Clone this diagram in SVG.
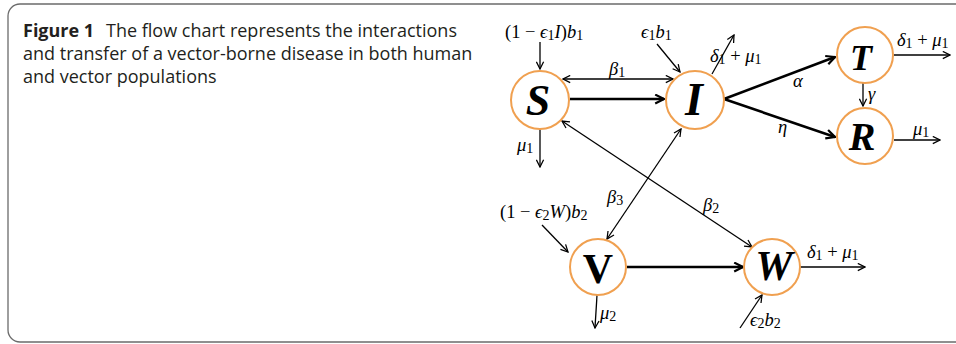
<svg xmlns="http://www.w3.org/2000/svg" width="956" height="344" viewBox="0 0 956 344">
<style>
.cap{font-family:"Open Sans","Liberation Sans",sans-serif;font-size:18px;fill:#231f20}
.node{fill:#fff;stroke:#F0A050;stroke-width:2}
.big{font-family:"Liberation Serif","DejaVu Serif",serif;font-weight:bold;font-style:italic;text-anchor:middle;fill:#000}
.m{font-family:"Liberation Serif","DejaVu Serif",serif;font-size:18.5px;fill:#000}
.i{font-style:italic}
.s{font-size:14px}
.c{stroke:#000;stroke-width:1.3;fill:none}
.t{stroke:#000;stroke-width:2.6;fill:none}
</style>
<defs>
<marker id="ah" viewBox="0 0 10 10" refX="9" refY="5" markerWidth="9" markerHeight="9" markerUnits="userSpaceOnUse" orient="auto-start-reverse">
<path d="M1,1 L9,5 L1,9" fill="none" stroke="#000" stroke-width="1.4"/>
</marker>
<marker id="ahT" viewBox="0 0 10 10" refX="9" refY="5" markerWidth="11" markerHeight="11" markerUnits="userSpaceOnUse" orient="auto">
<path d="M1,1 L9,5 L1,9" fill="none" stroke="#000" stroke-width="2"/>
</marker>
</defs>
<rect x="0" y="0" width="956" height="344" fill="#fff"/>
<path d="M960,4 H20 A12,12 0 0 0 8,16 V330 A12,12 0 0 0 20,342 H960" fill="none" stroke="#6b6b6b" stroke-width="1.3"/>
<g id="caption">
<text class="cap" x="23" y="37"><tspan font-weight="bold">Figure 1</tspan><tspan x="106">The flow chart represents the interactions</tspan></text>
<text class="cap" x="23" y="60">and transfer of a vector-borne disease in both human</text>
<text class="cap" x="23" y="83">and vector populations</text>
</g>
<g id="connectors">
<line class="c" x1="540" y1="42" x2="540" y2="69" marker-end="url(#ah)"/>
<line class="c" x1="657" y1="44" x2="680" y2="72" marker-end="url(#ah)"/>
<line class="c" x1="563" y1="79" x2="673" y2="79" marker-start="url(#ah)" marker-end="url(#ah)"/>
<line class="t" x1="570" y1="99" x2="664" y2="99" marker-end="url(#ahT)"/>
<line class="c" x1="540" y1="129" x2="540" y2="167" marker-end="url(#ah)"/>
<line class="c" x1="712" y1="74" x2="734" y2="35" marker-end="url(#ah)"/>
<line class="t" x1="724" y1="99" x2="835" y2="57" marker-end="url(#ahT)"/>
<line class="t" x1="724" y1="99" x2="835" y2="137" marker-end="url(#ahT)"/>
<line class="c" x1="863" y1="83" x2="863" y2="106" marker-end="url(#ah)" stroke-width="1.6"/>
<line class="c" x1="894" y1="55" x2="950" y2="55" marker-end="url(#ah)"/>
<line class="c" x1="894" y1="140" x2="940" y2="140" marker-end="url(#ah)"/>
<line class="c" x1="562" y1="121" x2="752" y2="247" marker-start="url(#ah)" marker-end="url(#ah)"/>
<line class="c" x1="681" y1="129" x2="607" y2="239" marker-start="url(#ah)" marker-end="url(#ah)"/>
<line class="c" x1="542" y1="225" x2="568" y2="252" marker-end="url(#ah)"/>
<line class="t" x1="627" y1="267" x2="743" y2="267" marker-end="url(#ahT)"/>
<line class="c" x1="597" y1="295" x2="595" y2="328" marker-end="url(#ah)"/>
<line class="c" x1="800" y1="267" x2="865" y2="267" marker-end="url(#ah)"/>
<line class="c" x1="740" y1="328" x2="762" y2="295" marker-end="url(#ah)"/>
</g>
<g id="node-S"><circle class="node" cx="540" cy="100" r="29"/><text class="big" x="538" y="115" font-size="44">S</text></g>
<g id="node-I"><circle class="node" cx="695" cy="100" r="29"/><text class="big" x="694" y="115" font-size="46">I</text></g>
<g id="node-T"><circle class="node" cx="865" cy="55" r="28"/><text class="big" x="861" y="70" font-size="36">T</text></g>
<g id="node-R"><circle class="node" cx="865" cy="136" r="28"/><text class="big" x="862" y="150" font-size="40">R</text></g>
<g id="node-V"><circle class="node" cx="598" cy="267" r="28"/><text class="big" x="598" y="283" font-size="42" style="font-style:normal">V</text></g>
<g id="node-W"><circle class="node" cx="772" cy="267" r="28"/><text class="big" x="774" y="280" font-size="42">W</text></g>
<g id="labels">
<text class="m" x="505" y="38">(1 − <tspan class="i">ϵ</tspan><tspan class="s" dy="2">1</tspan><tspan class="i" dy="-2">I</tspan>)<tspan class="i">b</tspan><tspan class="s" dy="2">1</tspan></text>
<text class="m" x="641" y="38"><tspan class="i">ϵ</tspan><tspan class="s" dy="2">1</tspan><tspan class="i" dy="-2">b</tspan><tspan class="s" dy="2">1</tspan></text>
<text class="m" x="609" y="75"><tspan class="i">β</tspan><tspan class="s" dy="2">1</tspan></text>
<text class="m" x="517" y="151"><tspan class="i">μ</tspan><tspan class="s" dy="2">1</tspan></text>
<text class="m" x="710" y="62"><tspan class="i">δ</tspan><tspan class="s" dy="2">1</tspan><tspan dy="-2"> + </tspan><tspan class="i">μ</tspan><tspan class="s" dy="2">1</tspan></text>
<text class="m" x="793" y="87"><tspan class="i">α</tspan></text>
<text class="m" x="778" y="133"><tspan class="i">η</tspan></text>
<text class="m" x="868" y="100"><tspan class="i">γ</tspan></text>
<text class="m" x="897" y="46"><tspan class="i">δ</tspan><tspan class="s" dy="2">1</tspan><tspan dy="-2"> + </tspan><tspan class="i">μ</tspan><tspan class="s" dy="2">1</tspan></text>
<text class="m" x="913" y="135"><tspan class="i">μ</tspan><tspan class="s" dy="2">1</tspan></text>
<text class="m" x="703" y="211"><tspan class="i">β</tspan><tspan class="s" dy="2">2</tspan></text>
<text class="m" x="607" y="203"><tspan class="i">β</tspan><tspan class="s" dy="2">3</tspan></text>
<text class="m" x="500" y="218">(1 − <tspan class="i">ϵ</tspan><tspan class="s" dy="2">2</tspan><tspan class="i" dy="-2">W</tspan>)<tspan class="i">b</tspan><tspan class="s" dy="2">2</tspan></text>
<text class="m" x="600" y="319"><tspan class="i">μ</tspan><tspan class="s" dy="2">2</tspan></text>
<text class="m" x="807" y="258"><tspan class="i">δ</tspan><tspan class="s" dy="2">1</tspan><tspan dy="-2"> + </tspan><tspan class="i">μ</tspan><tspan class="s" dy="2">1</tspan></text>
<text class="m" x="750" y="326"><tspan class="i">ϵ</tspan><tspan class="s" dy="2">2</tspan><tspan class="i" dy="-2">b</tspan><tspan class="s" dy="2">2</tspan></text>
</g>
</svg>
